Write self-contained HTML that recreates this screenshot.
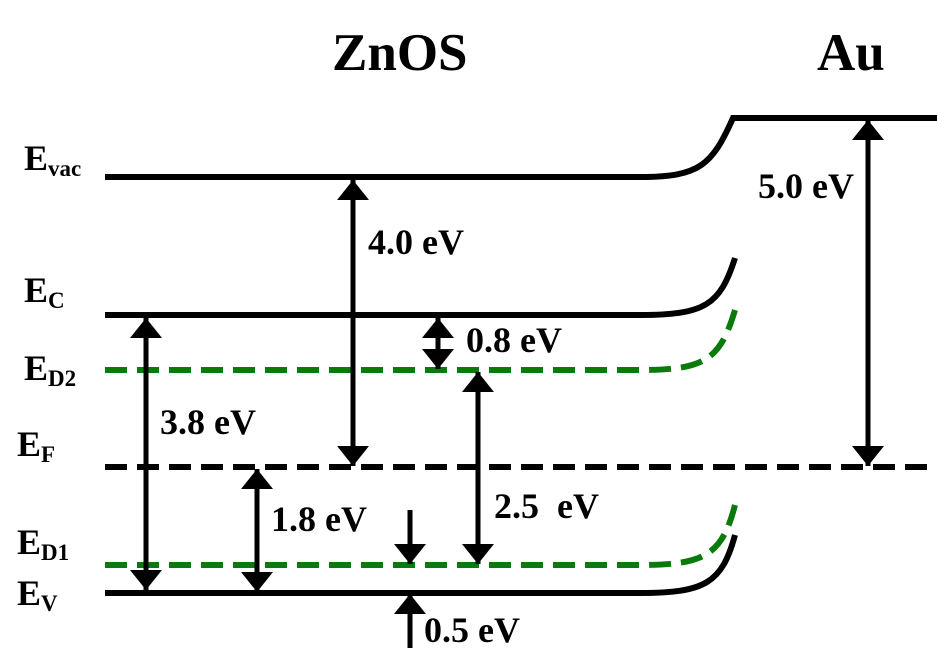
<!DOCTYPE html>
<html><head><style>
html,body{margin:0;padding:0;background:#fff;}
svg{display:block;}
text{font-family:"Liberation Serif",serif;font-weight:bold;fill:#000;}
</style></head><body>
<svg width="937" height="672" viewBox="0 0 937 672" xmlns="http://www.w3.org/2000/svg">
<defs>
<marker id="ah" viewBox="0 0 20 32" refX="20" refY="16" markerWidth="20" markerHeight="32" markerUnits="userSpaceOnUse" orient="auto">
<path d="M0 0 L20 16 L0 32 Z" fill="#000"/>
</marker>
</defs>
<text x="332" y="70" font-size="53">ZnOS</text>
<text x="817" y="70" font-size="53">Au</text>

<g font-size="36">
<text x="24" y="170">E<tspan font-size="23" dy="6">vac</tspan></text>
<text x="24" y="302">E<tspan font-size="23" dy="6">C</tspan></text>
<text x="24" y="380">E<tspan font-size="23" dy="6">D2</tspan></text>
<text x="17" y="456">E<tspan font-size="23" dy="6">F</tspan></text>
<text x="17" y="554">E<tspan font-size="23" dy="6">D1</tspan></text>
<text x="17" y="605">E<tspan font-size="23" dy="6">V</tspan></text>
</g>

<g fill="none" stroke-width="6">
<path d="M105 177 H640 C700 177 712 165 733 118 H937" stroke="#000"/>
<path d="M105 315 H640 C705 315 720 305 735 258" stroke="#000"/>
<path d="M105 370 H640 C705 370 720 360 735 310" stroke="#0a7a0a" stroke-dasharray="22 10"/>
<path d="M105 467 H937" stroke="#000" stroke-dasharray="22 10"/>
<path d="M105 565 H640 C705 565 722 555 735 505" stroke="#0a7a0a" stroke-dasharray="22 10"/>
<path d="M105 593 H640 C705 593 722 583 735 535" stroke="#000"/>
</g>

<g stroke="#000" stroke-width="5" fill="none">
<line x1="146" y1="450" x2="146" y2="318" marker-end="url(#ah)"/>
<line x1="146" y1="450" x2="146" y2="590" marker-end="url(#ah)"/>
<line x1="353" y1="320" x2="353" y2="180" marker-end="url(#ah)"/>
<line x1="353" y1="320" x2="353" y2="466" marker-end="url(#ah)"/>
<line x1="438" y1="342" x2="438" y2="318" marker-end="url(#ah)"/>
<line x1="438" y1="342" x2="438" y2="369" marker-end="url(#ah)"/>
<line x1="478" y1="470" x2="478" y2="372" marker-end="url(#ah)"/>
<line x1="478" y1="470" x2="478" y2="564" marker-end="url(#ah)"/>
<line x1="257" y1="530" x2="257" y2="469" marker-end="url(#ah)"/>
<line x1="257" y1="530" x2="257" y2="592" marker-end="url(#ah)"/>
<line x1="410" y1="510" x2="410" y2="564" marker-end="url(#ah)"/>
<line x1="410" y1="648" x2="410" y2="594" marker-end="url(#ah)"/>
<line x1="868" y1="300" x2="868" y2="120" marker-end="url(#ah)"/>
<line x1="868" y1="300" x2="868" y2="466" marker-end="url(#ah)"/>
</g>

<g font-size="36">
<text x="368" y="254">4.0 eV</text>
<text x="466" y="352">0.8 eV</text>
<text x="160" y="434">3.8 eV</text>
<text x="271" y="531">1.8 eV</text>
<text x="494" y="518">2.5&#160; eV</text>
<text x="424" y="642">0.5 eV</text>
<text x="758" y="198">5.0 eV</text>
</g>
</svg>
</body></html>
